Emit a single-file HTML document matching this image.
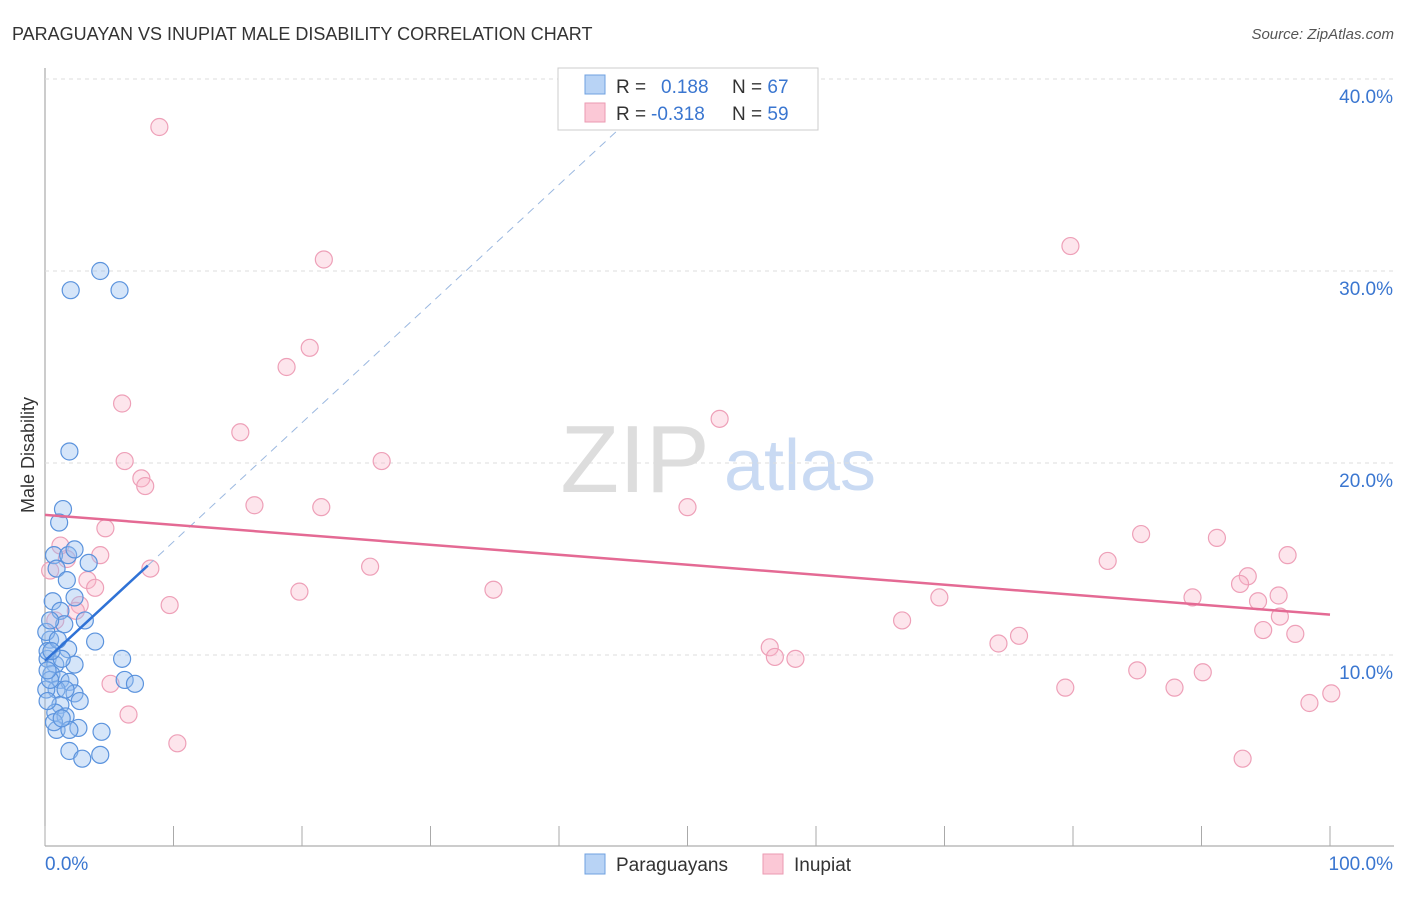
<!DOCTYPE html>
<html><head><meta charset="utf-8"><style>
body{margin:0;background:#fff;font-family:"Liberation Sans",sans-serif}
svg text{font-family:"Liberation Sans",sans-serif}
</style></head><body>
<svg id="c" width="1406" height="892" xmlns="http://www.w3.org/2000/svg">
<text x="12" y="40" font-size="18" fill="#333">PARAGUAYAN VS INUPIAT MALE DISABILITY CORRELATION CHART</text>
<text x="1394" y="39" font-size="15" fill="#555" font-style="italic" text-anchor="end">Source: ZipAtlas.com</text>
<text x="34" y="455" font-size="18" fill="#333" text-anchor="middle" transform="rotate(-90 34 455)">Male Disability</text>
<g><text x="635" y="492" font-size="96" fill="#ddd" font-family="Liberation Serif" text-anchor="middle">ZIP</text><text x="800" y="490" font-size="72" fill="#c9daf3" text-anchor="middle">atlas</text></g>
<g id="grid"></g><g id="pts"></g><g id="lines"></g>
<g>
<rect x="558" y="68" width="260" height="62" fill="#fff" stroke="#ccc"/>
<rect x="585" y="75" width="20" height="19" fill="#b8d3f5" stroke="#6fa0e0"/>
<rect x="585" y="103" width="20" height="19" fill="#fbc8d6" stroke="#eb9ab2"/>
<text x="616" y="93" font-size="19" fill="#333">R = <tspan fill="#3a76d0" x="661">0.188</tspan><tspan fill="#333" x="732">N = </tspan><tspan fill="#3a76d0">67</tspan></text>
<text x="616" y="120" font-size="19" fill="#333">R = <tspan fill="#3a76d0" x="651">-0.318</tspan><tspan fill="#333" x="732">N = </tspan><tspan fill="#3a76d0">59</tspan></text>
</g>
<g>
<rect x="585" y="854" width="20" height="20" fill="#b8d3f5" stroke="#6fa0e0"/>
<text x="616" y="871" font-size="19" fill="#333">Paraguayans</text>
<rect x="763" y="854" width="20" height="20" fill="#fbc8d6" stroke="#eb9ab2"/>
<text x="794" y="871" font-size="19" fill="#333">Inupiat</text>
</g>
</svg>
<script>
const yTicks=[10,20,30,40];
const xTickLabels=["0.0%","100.0%"];
const blueX=[4.3,2.0,5.8,1.9,1.4,1.1,0.7,1.8,2.3,3.4,0.9,1.7,2.3,0.6,1.2,3.1,1.5,0.4,3.9,1.8,0.2,0.8,6.0,2.3,0.5,1.2,1.9,6.2,7.0,0.9,2.3,0.1,1.2,0.8,1.6,2.6,0.9,1.9,4.4,1.9,2.9,4.3,0.4,0.2,0.2,0.1,0.4,1.0,1.3,1.6,0.7,2.7,1.3,0.2,0.5];
const blueY=[30.0,29.0,29.0,20.6,17.6,16.9,15.2,15.2,15.5,14.8,14.5,13.9,13.0,12.8,12.3,11.8,11.6,10.8,10.7,10.3,9.8,9.5,9.8,9.5,9.0,8.7,8.6,8.7,8.5,8.2,8.0,8.2,7.4,7.0,6.8,6.2,6.1,6.1,6.0,5.0,4.6,4.8,8.7,9.2,10.2,11.2,11.8,10.8,9.8,8.2,6.5,7.6,6.7,7.6,10.2];
const pinkX=[8.9,21.7,20.6,18.8,6.0,15.2,6.2,26.2,7.5,7.8,16.3,21.5,4.7,4.3,1.7,8.2,25.3,3.3,3.9,19.8,34.9,2.7,9.7,2.4,52.5,50.0,79.8,85.3,91.2,96.7,82.7,93.6,93.0,89.3,96.0,69.6,94.4,96.1,66.7,94.8,97.3,75.8,74.2,56.4,56.8,58.4,85.0,90.1,79.4,87.9,5.1,100.1,98.4,6.5,10.3,93.2,0.8,0.4,1.2];
const pinkY=[37.5,30.6,26.0,25.0,23.1,21.6,20.1,20.1,19.2,18.8,17.8,17.7,16.6,15.2,15.0,14.5,14.6,13.9,13.5,13.3,13.4,12.6,12.6,12.3,22.3,17.7,31.3,16.3,16.1,15.2,14.9,14.1,13.7,13.0,13.1,13.0,12.8,12.0,11.8,11.3,11.1,11.0,10.6,10.4,9.9,9.8,9.2,9.1,8.3,8.3,8.5,8.0,7.5,6.9,5.4,4.6,11.8,14.4,15.7];
const blueTrend=[9.7,0.62];   // intercept, slope
const pinkTrend=[17.3,-0.052];
const NS='http://www.w3.org/2000/svg';
const X=v=>45+v*12.85, Y=v=>847-v*19.2;
function mk(t,a,p){const e=document.createElementNS(NS,t);for(const k in a)e.setAttribute(k,a[k]);p.appendChild(e);return e;}
const grid=document.getElementById('grid'),pts=document.getElementById('pts'),lines=document.getElementById('lines');
let ax=mk('line',{x1:45,y1:68,x2:45,y2:846,stroke:'#999'},grid);


let bx=mk('line',{x1:45,y1:846,x2:1394,y2:846,stroke:'#999'},grid);


for(let i=0;i<=10;i++){let t=mk('line',{x1:X(i*10),y1:826,x2:X(i*10),y2:846,stroke:'#aaa'},grid);

}
yTicks.forEach(v=>{let g=mk('line',{x1:45,y1:Y(v),x2:1394,y2:Y(v),stroke:'#ddd','stroke-dasharray':'4,4'},grid);


let t=mk('text',{x:1393,y:Y(v)+24,'font-size':19,fill:'#3a76d0','text-anchor':'end'},grid);t.textContent=v.toFixed(1)+'%';

});
xTickLabels.forEach((s,i)=>{let t=mk('text',{x:i?1393:45,y:870,'font-size':19,fill:'#3a76d0','text-anchor':i?'end':'start'},grid);t.textContent=s;

});
pinkX.forEach((x,i)=>{let c=mk('circle',{cx:X(x),cy:Y(pinkY[i]),r:8.5,fill:'rgba(248,180,200,0.35)',stroke:'#eea0b8','stroke-width':1.2},pts);

});
blueX.forEach((x,i)=>{let c=mk('circle',{cx:X(x),cy:Y(blueY[i]),r:8.5,fill:'rgba(150,190,240,0.4)',stroke:'#5b93dd','stroke-width':1.2},pts);

});
let xe=(40.5-blueTrend[0])/blueTrend[1];
let d=mk('line',{x1:X(8),y1:Y(blueTrend[0]+blueTrend[1]*8),x2:X(xe),y2:Y(40.5),stroke:'#9bb8e0','stroke-dasharray':'8,6'},lines);


let s=mk('line',{x1:X(0),y1:Y(blueTrend[0]),x2:X(8),y2:Y(blueTrend[0]+blueTrend[1]*8),stroke:'#2f72d6','stroke-width':2.5},lines);


let p=mk('line',{x1:X(0),y1:Y(pinkTrend[0]),x2:X(100),y2:Y(pinkTrend[0]+pinkTrend[1]*100),stroke:'#e46a94','stroke-width':2.5},lines);


</script>
</body></html>
